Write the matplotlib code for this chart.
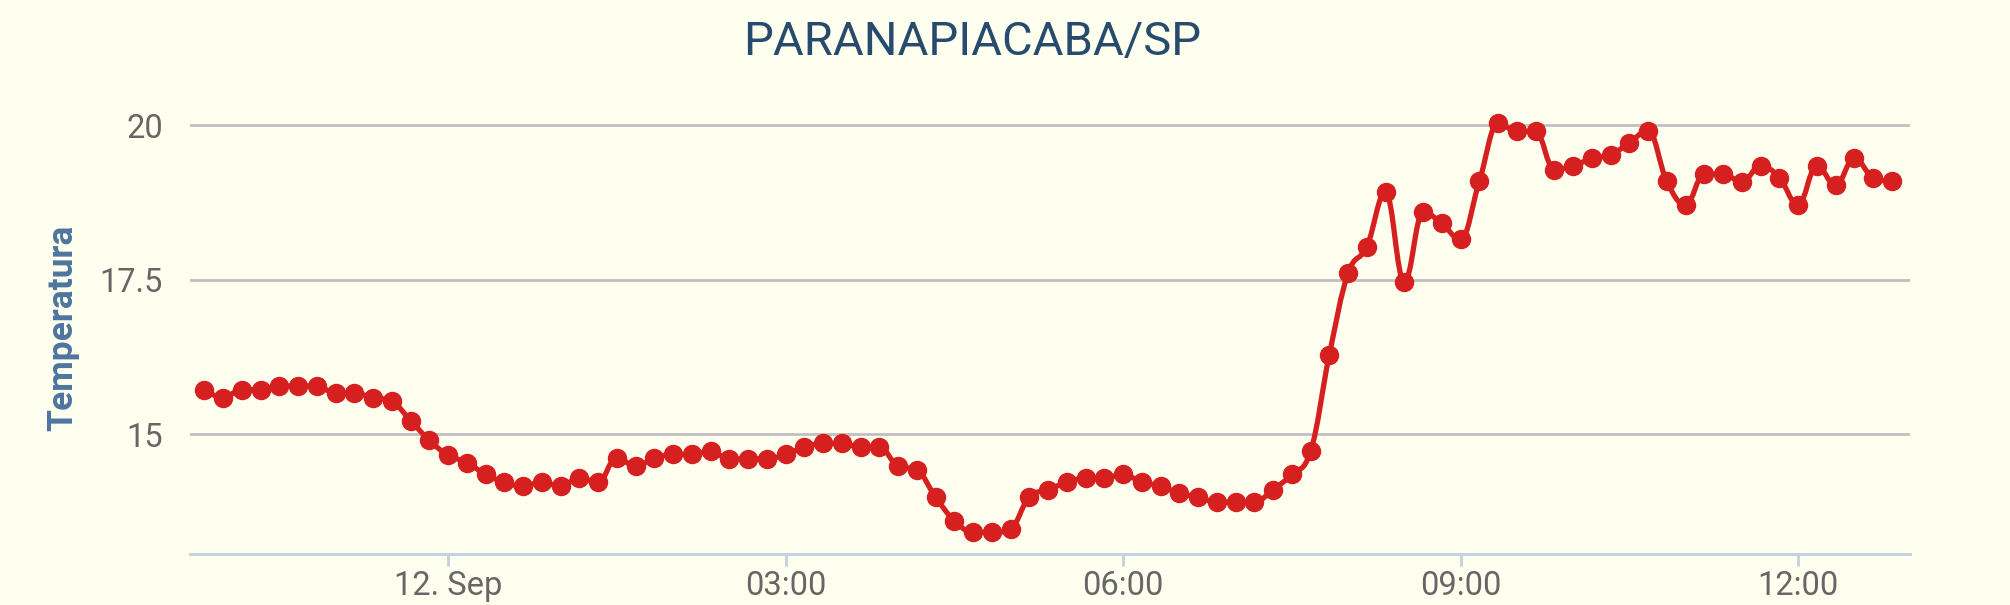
import numpy as np
import pandas as pd
import matplotlib
matplotlib.use('Agg')
import matplotlib.pyplot as plt
import matplotlib.dates as mdates
from matplotlib.path import Path
from matplotlib.patches import PathPatch

plt.rcParams['font.family'] = ['Roboto', 'DejaVu Sans']

# readings every 10 minutes, 11 Sep 21:50 -> 12 Sep 12:50
start = '2019-09-11 21:50'
temps = [15.72, 15.59, 15.72, 15.72, 15.78, 15.78, 15.78, 15.66, 15.66, 15.59,
         15.53, 15.22, 14.90, 14.66, 14.54, 14.35, 14.22, 14.16, 14.22, 14.16,
         14.29, 14.22, 14.62, 14.48, 14.61, 14.67, 14.67, 14.72, 14.60, 14.60,
         14.60, 14.67, 14.79, 14.85, 14.85, 14.79, 14.79, 14.48, 14.42, 13.98,
         13.60, 13.41, 13.41, 13.47, 13.98, 14.10, 14.22, 14.29, 14.29, 14.35,
         14.22, 14.16, 14.04, 13.98, 13.90, 13.90, 13.90, 14.10, 14.35, 14.72,
         16.28, 17.60, 18.03, 18.91, 17.46, 18.59, 18.41, 18.15, 19.09, 20.03,
         19.90, 19.90, 19.28, 19.34, 19.46, 19.52, 19.71, 19.91, 19.09, 18.71,
         19.21, 19.21, 19.08, 19.34, 19.15, 18.71, 19.34, 19.03, 19.46, 19.15,
         19.09]
yticks = [15, 17.5, 20]
ytick_labels = ['15', '17.5', '20']
title = 'PARANAPIACABA/SP'
ylabel = 'Temperatura'

times = pd.date_range(start, periods=len(temps), freq='10min')
x = mdates.date2num(times.to_pydatetime())
y = np.array(temps)

bg = '#FFFFF0'
red = '#D62020'


def spline_path(x, y, smoothing=1.5):
    # highcharts-like spline: cubic bezier with control points per point
    n = len(x)
    denom = smoothing + 1
    lc = [None] * n
    rc = [None] * n
    for i in range(1, n - 1):
        lx = (smoothing * x[i] + x[i - 1]) / denom
        ly = (smoothing * y[i] + y[i - 1]) / denom
        rx = (smoothing * x[i] + x[i + 1]) / denom
        ry = (smoothing * y[i] + y[i + 1]) / denom
        if rx != lx:
            corr = (ry - ly) * (rx - x[i]) / (rx - lx) + y[i] - ry
            ly += corr
            ry += corr
        if ly > y[i - 1] and ly > y[i]:
            ly = max(y[i - 1], y[i]); ry = 2 * y[i] - ly
        elif ly < y[i - 1] and ly < y[i]:
            ly = min(y[i - 1], y[i]); ry = 2 * y[i] - ly
        if ry > y[i + 1] and ry > y[i]:
            ry = max(y[i + 1], y[i]); ly = 2 * y[i] - ry
        elif ry < y[i + 1] and ry < y[i]:
            ry = min(y[i + 1], y[i]); ly = 2 * y[i] - ry
        lc[i] = (lx, ly)
        rc[i] = (rx, ry)
    verts = [(x[0], y[0])]
    codes = [Path.MOVETO]
    for i in range(1, n):
        c1 = rc[i - 1] if rc[i - 1] is not None else (x[i - 1], y[i - 1])
        c2 = lc[i] if lc[i] is not None else (x[i], y[i])
        verts += [c1, c2, (x[i], y[i])]
        codes += [Path.CURVE4] * 3
    return Path(verts, codes)


W, H = 2010, 605
fig = plt.figure(figsize=(W / 100, H / 100), dpi=100, facecolor=bg)
ax = fig.add_axes([190 / W, 51 / H, 1720 / W, 466 / H], facecolor=bg)

ax.add_patch(PathPatch(spline_path(x, y), fill=False, edgecolor=red, lw=3.8,
                       capstyle='round', joinstyle='round', zorder=3))
ax.plot(x, y, 'o', color=red, ms=13, mec=red, zorder=4)

ax.set_xlim(x[0] - 7.6 / 1440, x[0] + 909.7 / 1440)
ax.set_ylim(13.06, 20.6)

ax.set_yticks(yticks)
ax.set_yticklabels(ytick_labels)
ax.yaxis.grid(True, color='#C0C0C0', lw=2)
ax.tick_params(axis='y', length=0, pad=19.5, labelsize=23.5, labelcolor='#666666')

ax.xaxis.set_major_locator(mdates.HourLocator(byhour=[0, 3, 6, 9, 12]))


def fmt(v, pos=None):
    d = mdates.num2date(v)
    if d.hour == 0 and d.minute == 0:
        return '%d. %s' % (d.day, d.strftime('%b'))
    return d.strftime('%H:%M')


ax.xaxis.set_major_formatter(plt.FuncFormatter(fmt))
ax.tick_params(axis='x', length=8.6, width=2, color='#C0D0E0', pad=3,
               labelsize=23.5, labelcolor='#666666')

for s in ['top', 'right', 'left']:
    ax.spines[s].set_visible(False)
ax.spines['bottom'].set_color('#C0D0E0')
ax.spines['bottom'].set_linewidth(2)
ax.set_axisbelow(True)

ax.set_ylabel(ylabel, fontsize=25.5, fontweight='bold', color='#4D759E')
ax.yaxis.set_label_coords(-0.0645, 0.485)
fig.text(972 / W, 1 - 42 / H, title, ha='center', va='center', fontsize=34,
         color='#274B6D')

fig.savefig('out.png', dpi=100, facecolor=bg)
